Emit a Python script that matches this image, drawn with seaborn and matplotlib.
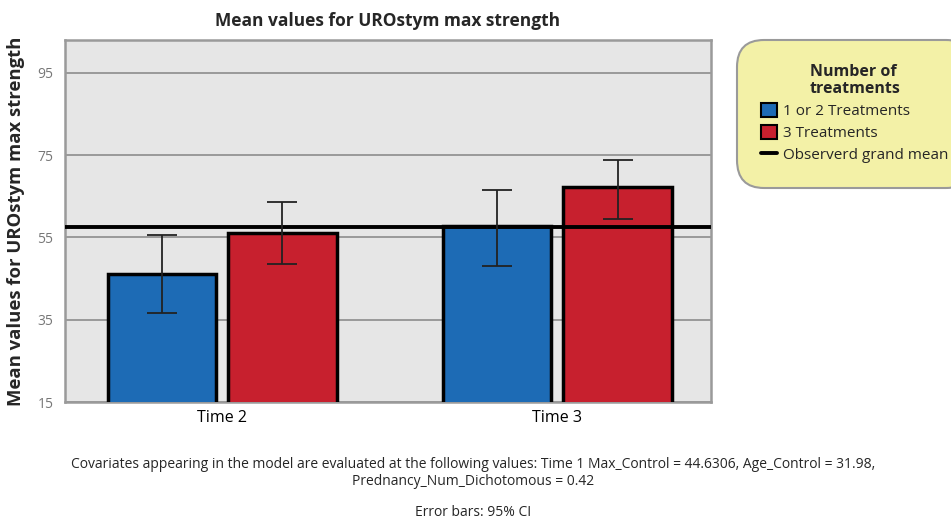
import numpy as np
import pandas as pd
import matplotlib
matplotlib.use('Agg')
import matplotlib.pyplot as plt
from matplotlib.lines import Line2D
from matplotlib.patches import Patch
import seaborn as sns

# Values
times = ['Time 2', 'Time 3']
groups = ['1 or 2 Treatments', '3 Treatments']
mean_12 = [46.0, 57.7]
mean_3 = [56.1, 67.3]
ci_low_12 = [36.6, 48.0]
ci_high_12 = [55.6, 66.6]
ci_low_3 = [48.5, 59.6]
ci_high_3 = [63.7, 73.9]
grand_mean = 57.6
yticks = [15, 35, 55, 75, 95]

colors = ['#1d6bb5', '#c7202e']

df = pd.DataFrame({
    'time': times * 2,
    'group': [groups[0]] * 2 + [groups[1]] * 2,
    'mean': mean_12 + mean_3,
    'lo': ci_low_12 + ci_low_3,
    'hi': ci_high_12 + ci_high_3,
})

sns.set_style('white')
plt.rcParams['font.family'] = ['Open Sans', 'DejaVu Sans']

fig = plt.figure(figsize=(9.51, 5.19), dpi=100)
ax = fig.add_axes([0.068, 0.2254, 0.68, 0.6975])
ax.set_facecolor('#e6e6e6')

sns.barplot(data=df, x='time', y='mean', hue='group', palette=colors,
            saturation=1, width=0.72, gap=0.1, errorbar=None,
            edgecolor='black', linewidth=2.5, legend=False, ax=ax, zorder=3)

# error bars from the bar centres
bars = [p for p in ax.patches if p.get_height() > 0]
for grp_i, g in enumerate(groups):
    sub = df[df['group'] == g]
    for t_i in range(len(times)):
        p = bars[grp_i * len(times) + t_i]
        xc = p.get_x() + p.get_width() / 2
        row = sub.iloc[t_i]
        m = row['mean']
        ax.errorbar(xc, m, yerr=[[m - row['lo']], [row['hi'] - m]],
                    fmt='none', ecolor='#222222', elinewidth=1.3,
                    capsize=11, capthick=1.3, zorder=5)

ax.axhline(grand_mean, color='black', lw=2.8, zorder=4)

ax.set_ylim(15, 103)
ax.set_xlim(-0.47, 1.46)
ax.set_yticks(yticks)
ax.yaxis.grid(True, color='#8c8c8c', lw=1.2, zorder=0)
ax.set_axisbelow(True)
ax.tick_params(axis='y', colors='#777777', labelsize=10, length=0, pad=8)
ax.tick_params(axis='x', labelsize=11.5, length=0, pad=6, colors='black')
for s in ax.spines.values():
    s.set_color('#9a9a9a')
    s.set_linewidth(1.8)

ax.set_xlabel('')
ax.set_ylabel('Mean values for UROstym max strength', fontsize=13.3,
              fontweight='bold', labelpad=9)
ax.set_title('Mean values for UROstym max strength', fontsize=12.5,
             fontweight='bold', pad=10)

handles = [Patch(facecolor=colors[0], edgecolor='black', lw=1.5),
           Patch(facecolor=colors[1], edgecolor='black', lw=1.5),
           Line2D([], [], color='black', lw=2.8)]
leg = fig.legend(handles, groups + ['Observerd grand mean'],
                 title='Number of\ntreatments', loc='upper left',
                 bbox_to_anchor=(0.782, 0.91), fontsize=11,
                 title_fontproperties={'weight': 'bold', 'size': 11.5},
                 frameon=True, fancybox=True, handlelength=1.0,
                 handleheight=1.0, handletextpad=0.45, labelspacing=0.4,
                 borderpad=1.15, borderaxespad=0)
leg.get_title().set_linespacing(1.05)
frame = leg.get_frame()
frame.set_facecolor('#f3f1a7')
frame.set_edgecolor('#9a9a9a')
frame.set_linewidth(1.5)
frame.set_alpha(1)
frame.set_boxstyle('round,pad=0.45,rounding_size=1.8')

fig.text(0.497, 0.088,
         'Covariates appearing in the model are evaluated at the following values: '
         'Time 1 Max_Control = 44.6306, Age_Control = 31.98,\nPrednancy_Num_Dichotomous = 0.42',
         ha='center', va='center', fontsize=10, linespacing=1.2)
fig.text(0.497, 0.013, 'Error bars: 95% CI', ha='center', va='center', fontsize=10)

fig.savefig('out.png', dpi=100)
